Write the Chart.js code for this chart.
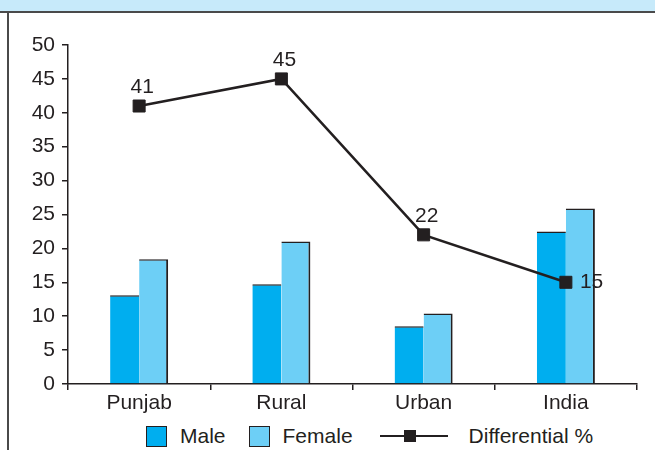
<!DOCTYPE html>
<html lang="en">
<head>
    <meta charset="UTF-8">
    <title>Male / Female / Differential %</title>
    <script src="https://cdn.jsdelivr.net/npm/chart.js"></script>
    <style>
        body { margin: 0; width: 655px; height: 450px; position: relative; overflow: hidden; background: #fff;
               font-family: "Liberation Sans", Arial, sans-serif; color: #231f20; }
        .band { position: absolute; left: 0; top: 0; width: 655px; height: 11px; background: #c7eafa;
                border-bottom: 2px solid #4a4a4a; }
        .frame { position: absolute; left: 7px; top: 12px; width: 0; height: 438px; border-left: 2px solid #4a4a4a; }
        .chart-box { position: absolute; left: 9px; top: 13px; width: 646px; height: 405px; }
        .legend { position: absolute; left: 146px; top: 424px; display: flex; align-items: center; font-size: 21px; }
        .legend .box { width: 19px; height: 19px; border: 1px solid #231f20; }
        .legend .line { position: relative; width: 68px; height: 2.5px; background: #231f20; }
        .legend .line span { position: absolute; left: 24px; top: -5px; width: 12px; height: 12px; background: #231f20; }
    </style>
</head>
<body>
    <div class="band"></div>
    <div class="frame"></div>
    <div class="chart-box"><canvas id="diffChart"></canvas></div>
    <div class="legend" id="legend"></div>

    <script>
        // values
        const categories = ['Punjab', 'Rural', 'Urban', 'India'];
        const maleValues = [13.1, 14.7, 8.5, 22.5];
        const femaleValues = [18.4, 21.0, 10.4, 25.9];
        const differentialValues = [41, 45, 22, 15];
        const yMin = 0, yMax = 50, yStep = 5;

        const ink = '#231f20';
        const maleColor = '#00aeef';
        const femaleColor = '#6dcff6';

        Chart.defaults.font.family = '"Liberation Sans", Arial, sans-serif';
        Chart.defaults.font.size = 21;
        Chart.defaults.color = ink;

        // numbers next to the line points
        const pointLabels = {
            id: 'pointLabels',
            afterDatasetsDraw(chart) {
                const ctx = chart.ctx;
                const meta = chart.getDatasetMeta(2);
                ctx.save();
                ctx.fillStyle = ink;
                ctx.font = '21px "Liberation Sans", Arial, sans-serif';
                ctx.textBaseline = 'middle';
                meta.data.forEach((pt, i) => {
                    const v = differentialValues[i];
                    if (i === meta.data.length - 1) {
                        ctx.textAlign = 'left';
                        ctx.fillText(v, pt.x + 14, pt.y);
                    } else {
                        ctx.textAlign = 'center';
                        ctx.fillText(v, pt.x + 3, pt.y - 19);
                    }
                });
                ctx.restore();
            }
        };

        new Chart(document.getElementById('diffChart'), {
            type: 'bar',
            data: {
                labels: categories,
                datasets: [
                    {
                        label: 'Male',
                        data: maleValues,
                        backgroundColor: maleColor,
                        borderColor: ink,
                        borderWidth: { top: 1.5, right: 0, bottom: 0, left: 0 },
                        categoryPercentage: 0.408,
                        barPercentage: 1,
                        order: 1
                    },
                    {
                        label: 'Female',
                        data: femaleValues,
                        backgroundColor: femaleColor,
                        borderColor: ink,
                        borderWidth: { top: 1.5, right: 2, bottom: 0, left: 0 },
                        categoryPercentage: 0.408,
                        barPercentage: 1,
                        order: 1
                    },
                    {
                        type: 'line',
                        label: 'Differential %',
                        data: differentialValues,
                        borderColor: ink,
                        borderWidth: 2.5,
                        backgroundColor: ink,
                        pointStyle: 'rect',
                        pointRadius: 8.5,
                        pointBorderWidth: 1,
                        pointBackgroundColor: ink,
                        tension: 0,
                        fill: false,
                        order: 0
                    }
                ]
            },
            options: {
                responsive: true,
                maintainAspectRatio: false,
                animation: false,
                layout: { padding: { top: 32, right: 18, bottom: 0, left: 0 } },
                plugins: {
                    legend: { display: false },
                    tooltip: { enabled: false }
                },
                scales: {
                    x: {
                        grid: { offset: true, drawOnChartArea: false, drawTicks: true, tickLength: 6, color: ink, lineWidth: 1.5 },
                        border: { color: ink, width: 1.5 },
                        ticks: { color: ink, padding: 1 },
                        afterFit(scale) { scale.height = 34; }
                    },
                    y: {
                        min: yMin,
                        max: yMax,
                        ticks: { stepSize: yStep, color: ink, padding: 7 },
                        grid: { drawOnChartArea: false, drawTicks: true, tickLength: 6, color: ink, lineWidth: 1.5 },
                        border: { color: ink, width: 1.5 },
                        afterFit(scale) { scale.width = 59; }
                    }
                }
            },
            plugins: [pointLabels]
        });

        // legend below the chart
        const legend = document.getElementById('legend');
        legend.innerHTML =
            '<div class="box" style="background:' + maleColor + '"></div>' +
            '<div style="margin:0 23px 0 13px">Male</div>' +
            '<div class="box" style="background:' + femaleColor + '"></div>' +
            '<div style="margin:0 27px 0 13px">Female</div>' +
            '<div class="line"><span></span></div>' +
            '<div style="margin-left:21px">Differential %</div>';
    </script>
</body>
</html>
